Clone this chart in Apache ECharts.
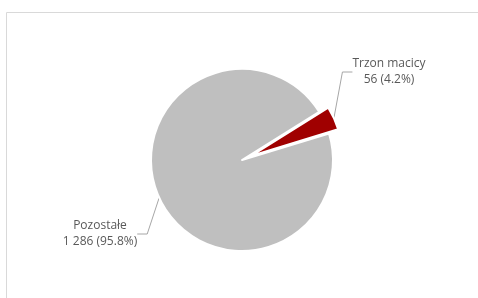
<!DOCTYPE html>
<html><head><meta charset="utf-8">
<script src="https://cdn.jsdelivr.net/npm/echarts@6/dist/echarts.min.js"></script>
<style>html,body{margin:0;padding:0;background:#fff}#c{width:478px;height:298px}</style>
</head><body><div id="c"></div>
<script>
const categories = ['Trzon macicy', 'Pozostałe'];
const values = [56, 1286];
const percents = ['4.2%', '95.8%'];
const valueLabels = ['56', '1 286'];
const colors = ['#a00000', '#bfbfbf'];

const chart = echarts.init(document.getElementById('c'));
const cx = 242, cy = 160, R = 91, startAngle = 32, explode = 10;
const total = values.reduce((a, b) => a + b, 0);
const mid = (startAngle - 360 * values[0] / total / 2) * Math.PI / 180;
const labelPos = [[389, 72], [100, 234]];

function makeSeries(showIdx, center) {
  return {
    type: 'pie',
    center: center,
    radius: R,
    startAngle: startAngle,
    clockwise: true,
    silent: true,
    data: categories.map((c, i) => ({
      name: c, value: values[i],
      itemStyle: i === showIdx ? {color: colors[i], borderColor: '#fff', borderWidth: 2} : {color: 'rgba(0,0,0,0)', borderWidth: 0},
      label: {show: i === showIdx},
      labelLine: {show: i === showIdx}
    })),
    label: {
      formatter: p => p.name + '\n' + valueLabels[p.dataIndex] + ' (' + percents[p.dataIndex] + ')',
      fontFamily: 'Open Sans', fontSize: 12, color: '#595959', lineHeight: 16, align: 'center'
    },
    labelLine: {length: 20, length2: 10, lineStyle: {color: '#a6a6a6', width: 1}},
    labelLayout: p => ({x: labelPos[p.dataIndex][0], y: labelPos[p.dataIndex][1], align: 'center', verticalAlign: 'middle'}),
    emphasis: {disabled: true}
  };
}

chart.setOption({
  animation: false,
  graphic: [{
    type: 'rect', shape: {x: 6.5, y: 12.5, width: 520, height: 320},
    style: {fill: 'none', stroke: '#d9d9d9', lineWidth: 1}, silent: true
  }],
  series: [
    makeSeries(1, [cx, cy]),
    makeSeries(0, [cx + explode * Math.cos(mid), cy - explode * Math.sin(mid)])
  ]
});
</script></body></html>
